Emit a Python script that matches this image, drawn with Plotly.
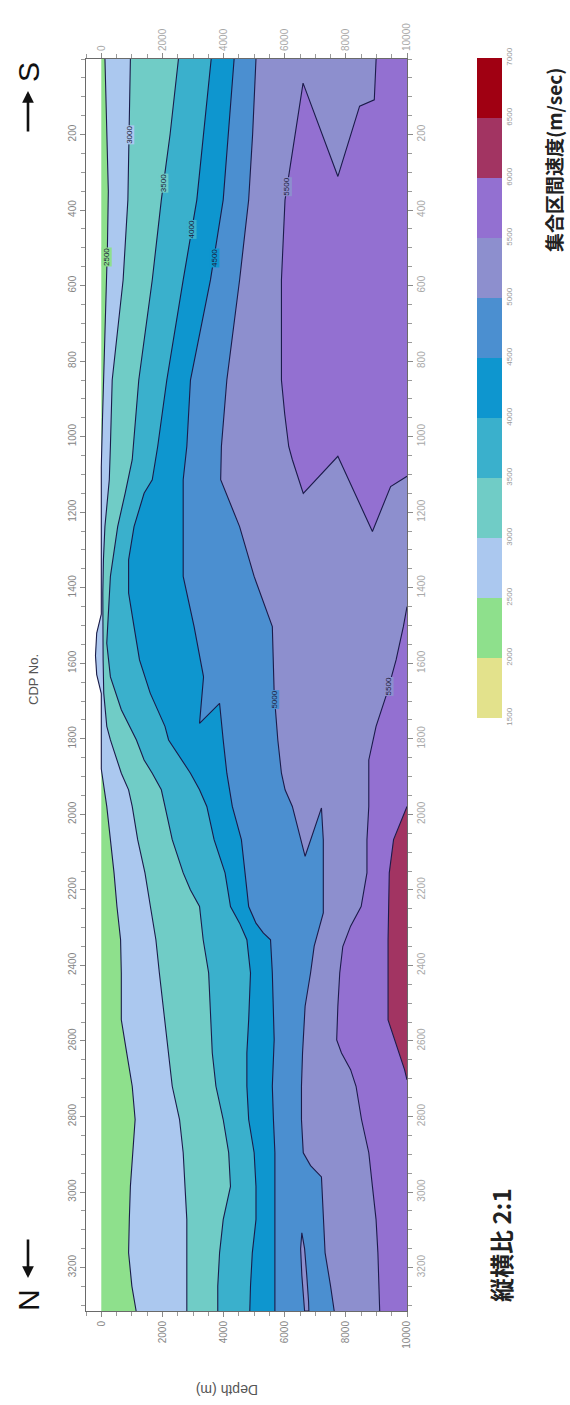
import plotly.graph_objects as go

# ---------------- velocity bands (m/sec) ----------------
levels = [1500, 2000, 2500, 3000, 3500, 4000, 4500, 5000, 5500, 6000, 6500, 7000]
band_colors = ["#e3e28c", "#8ee08c", "#abc8ef", "#70ccc6", "#3ab0cc", "#0e96cf",
               "#4b8fd0", "#8d8fce", "#9370d1", "#a23462", "#a00012"]

CDP_MAX = 3315
DEPTH_MIN, DEPTH_MAX = -500, 10000

# top of the velocity section (datum), depth in m
surf_cdp = [0, 1470, 1520, 1580, 1630, 1680, 3315]
surf_depth = [0, 0, -150, -190, -150, 0, 0]

# iso-velocity lines: CDP No. and depth (m) along each line
c2500 = [0, 200, 350, 500, 650, 800, 950, 1080, 1470, 1520, 1580, 1630, 1680, 1880, 1979,
         2067, 2155, 2244, 2332, 2420, 2544, 2632, 2720, 2808, 2896, 2985, 3073, 3161,
         3249, 3315]
d2500 = [120, 170, 230, 200, 140, 90, 40, 0, 0, -150, -190, -150, 0, 0, 179,
         298, 417, 512, 631, 655, 655, 833, 1012, 1107, 1036, 952, 917, 893,
         1000, 1140]

c3000 = [0, 200, 373, 585, 850, 1026, 1114, 1238, 1326, 1414, 1503, 1591, 1679, 1767,
         1803, 1847, 1891, 1935, 1979, 2067, 2155, 2244, 2332, 2420, 2508, 2597, 2632,
         2720, 2808, 2896, 2985, 3073, 3315]
d3000 = [952, 917, 870, 714, 357, 298, 262, 119, 70, 50, 50, 60, 80, 180,
         298, 476, 655, 893, 1012, 1190, 1429, 1607, 1786, 1900, 2024, 2150, 2202,
         2321, 2560, 2679, 2738, 2798, 2798]

c3500 = [0, 200, 373, 585, 850, 1026, 1061, 1150, 1238, 1370, 1459, 1547, 1636, 1723,
         1803, 1856, 1891, 1935, 1979, 2067, 2155, 2200, 2244, 2332, 2420, 2544, 2632,
         2720, 2808, 2896, 2985, 3073, 3161, 3249, 3315]
d3500 = [2524, 2250, 1964, 1667, 1226, 1048, 1012, 780, 536, 298, 238, 179, 298, 655,
         1150, 1400, 1667, 1964, 2083, 2321, 2679, 2917, 3214, 3333, 3512, 3571, 3631,
         3750, 3988, 4167, 4226, 3988, 3869, 3810, 3810]

c4000 = [0, 200, 373, 585, 850, 1026, 1114, 1150, 1238, 1326, 1414, 1503, 1591, 1679,
         1767, 1803, 1891, 1935, 1979, 2067, 2155, 2244, 2288, 2332, 2420, 2544, 2632,
         2720, 2808, 2896, 2985, 3073, 3161, 3249, 3315]
d4000 = [3595, 3350, 3125, 2679, 2143, 1845, 1667, 1400, 1071, 893, 893, 1071, 1250, 1600,
         2083, 2202, 2917, 3214, 3452, 3690, 4048, 4226, 4524, 4762, 4881, 4821, 4762,
         4762, 4821, 5000, 5060, 5060, 4940, 4881, 4857]

c4500 = [0, 200, 373, 585, 850, 1026, 1114, 1238, 1370, 1503, 1636, 1759, 1706, 1803,
         1891, 1979, 2067, 2155, 2244, 2288, 2314, 2332, 2420, 2597, 2720, 2808, 2896,
         3315]
d4500 = [4345, 4150, 3988, 3571, 2917, 2798, 2679, 2679, 2679, 3036, 3345, 3214, 3869, 3988,
         4107, 4286, 4583, 4702, 4821, 5060, 5298, 5536, 5595, 5655, 5595, 5631, 5679,
         5679]

c5000 = [0, 200, 373, 585, 850, 1026, 1114, 1238, 1370, 1503, 1679, 1803, 1891, 1935,
         1979, 2111, 1983, 2067, 2261, 2349, 2420, 2508, 2597, 2632, 2720, 2808, 2896,
         2930, 2960, 3073, 3161, 3249, 3315]
d5000 = [5060, 4950, 4821, 4524, 4107, 3929, 3905, 4524, 5000, 5595, 5655, 5774, 5893, 6012,
         6250, 6667, 7202, 7262, 7262, 6964, 6845, 6667, 6607, 6583, 6548, 6548, 6607,
         6845, 7202, 7262, 7321, 7500, 7619]

# closed 5000 m/sec lens near the north end
lens_cdp = [3108, 3150, 3220, 3290, 3315, 3315, 3290, 3220, 3150, 3108]
lens_depth = [6560, 6520, 6560, 6620, 6650, 6790, 6780, 6720, 6650, 6560]

# 5500 m/sec line, southern (upper) body and northern (lower) body
c5500_s = [0, 108, 125, 311, 64, 373, 585, 850, 940, 1026, 1061, 1150, 1052, 1251, 1132, 1105]
d5500_s = [8990, 8930, 8450, 7740, 6600, 6010, 5893, 5893, 6000, 6131, 6250, 6607, 7738,
           8869, 9464, 10000]
c5500_n = [1450, 1503, 1591, 1679, 1767, 1856, 1979, 2067, 2155, 2244, 2296, 2350, 2420,
           2508, 2597, 2632, 2676, 2720, 2808, 2896, 2985, 3073, 3161, 3315]
d5500_n = [10000, 9881, 9643, 9345, 8988, 8750, 8750, 8690, 8690, 8500, 8155, 7900, 7800,
           7738, 7700, 7857, 8155, 8333, 8512, 8750, 8869, 8988, 9048, 9107]

# 6000 m/sec body
c6000 = [1979, 2023, 2067, 2155, 2332, 2544, 2588, 2632, 2676, 2703]
d6000 = [10000, 9780, 9560, 9420, 9380, 9380, 9560, 9720, 9920, 10000]

# contour labels: text, CDP, depth
label_text = ["3000", "3500", "2500", "4000", "4500", "5500", "5000", "5500"]
label_cdp = [200, 330, 524, 452, 527, 338, 1697, 1662]
label_depth = [917, 2035, 190, 2959, 3685, 6077, 5672, 9403]
label_bg = [band_colors[2], band_colors[3], band_colors[1], band_colors[4],
            band_colors[5], band_colors[7], band_colors[6], band_colors[7]]

# axis ticks
depth_ticks = [0, 2000, 4000, 6000, 8000, 10000]
cdp_ticks = list(range(200, 3201, 200))

LINE_COLOR = "#1b1b4a"
fig = go.Figure()


def add_region(cdp, depth, color):
    """Fill the area between a line and the deep (right) edge of the section."""
    fig.add_trace(go.Scatter(
        x=list(depth) + [DEPTH_MAX, DEPTH_MAX],
        y=list(cdp) + [cdp[-1], cdp[0]],
        mode="lines", fill="toself", fillcolor=color,
        line=dict(width=0, color=color), hoverinfo="skip"))


def add_closed(cdp, depth, color):
    fig.add_trace(go.Scatter(x=depth, y=cdp, mode="lines", fill="toself",
                             fillcolor=color, line=dict(width=0, color=color),
                             hoverinfo="skip"))


def add_line(cdp, depth):
    fig.add_trace(go.Scatter(x=depth, y=cdp, mode="lines",
                             line=dict(color=LINE_COLOR, width=1.1), hoverinfo="skip"))


# filled bands, lowest velocity first
add_region(surf_cdp, surf_depth, band_colors[1])
add_region(c2500, d2500, band_colors[2])
add_region(c3000, d3000, band_colors[3])
add_region(c3500, d3500, band_colors[4])
add_region(c4000, d4000, band_colors[5])
add_region(c4500, d4500, band_colors[6])
add_region(c5000, d5000, band_colors[7])
add_closed(lens_cdp, lens_depth, band_colors[7])
add_region(c5500_s, d5500_s, band_colors[8])
add_region(c5500_n, d5500_n, band_colors[8])
add_closed(c6000, d6000, band_colors[9])

# iso-velocity lines
for c, d in [(c2500, d2500), (c3000, d3000), (c3500, d3500), (c4000, d4000),
             (c4500, d4500), (c5000, d5000), (lens_cdp, lens_depth),
             (c5500_s, d5500_s), (c5500_n, d5500_n), (c6000, d6000)]:
    add_line(c, d)

# colour scale legend
cscale = []
for i, col in enumerate(band_colors):
    cscale.append([i / len(band_colors), col])
    cscale.append([(i + 1) / len(band_colors), col])

PLOT_L, PLOT_R, PLOT_T, PLOT_B = 86, 407, 59, 1311
PW, PH = PLOT_R - PLOT_L, PLOT_B - PLOT_T


def px(x):
    return (x - PLOT_L) / PW


def py(y):
    return (PLOT_B - y) / PH


fig.add_trace(go.Scatter(
    x=[DEPTH_MIN, DEPTH_MIN], y=[CDP_MAX, CDP_MAX], mode="markers",
    marker=dict(size=1, opacity=0, color=[levels[0], levels[-1]],
                cmin=levels[0], cmax=levels[-1], colorscale=cscale, showscale=True,
                colorbar=dict(thickness=25, thicknessmode="pixels",
                              len=660, lenmode="pixels",
                              x=px(477), xanchor="left", xpad=0,
                              y=py(58), yanchor="top", ypad=0,
                              tickmode="array", tickvals=levels,
                              ticktext=[str(v) for v in levels],
                              tickangle=-90, ticks="", outlinewidth=0,
                              tickfont=dict(size=8, color="#999999",
                                            family="Liberation Sans"))),
    hoverinfo="skip"))

# invisible trace so that the mirrored axes are drawn
fig.add_trace(go.Scatter(x=[None], y=[None], xaxis="x2", yaxis="y2",
                         mode="markers", hoverinfo="skip"))

for t, c, d, bg in zip(label_text, label_cdp, label_depth, label_bg):
    fig.add_annotation(x=d, y=c, xref="x", yref="y", text=t, showarrow=False,
                       textangle=-90, bgcolor=bg, borderpad=0,
                       font=dict(size=8, color="#1b1b3a", family="Liberation Sans"))

tick_font = dict(size=10, color="#858585", family="Liberation Sans")
tick_font_light = dict(size=10, color="#a8a8a8", family="Liberation Sans")

common_x = dict(range=[DEPTH_MIN, DEPTH_MAX], tickmode="array", tickvals=depth_ticks,
                ticktext=[str(v) for v in depth_ticks], tickangle=-90,
                ticks="outside", ticklen=5, tickcolor="#8a8a8a",
                minor=dict(dtick=500, tick0=0, ticks="outside", ticklen=4,
                           tickcolor="#9a9a9a"),
                showline=True, linecolor="#6a6a6a", linewidth=1,
                showgrid=False, zeroline=False)
common_y = dict(range=[CDP_MAX, 0], tickmode="array", tickvals=cdp_ticks,
                ticktext=[str(v) for v in cdp_ticks], tickangle=-90,
                ticks="outside", ticklen=5, tickcolor="#8a8a8a",
                minor=dict(dtick=50, tick0=0, ticks="outside", ticklen=4,
                           tickcolor="#9a9a9a"),
                showline=True, linecolor="#6a6a6a", linewidth=1,
                showgrid=False, zeroline=False)

fig.update_layout(
    width=570, height=1405,
    margin=dict(l=PLOT_L, r=570 - PLOT_R, t=PLOT_T, b=1405 - PLOT_B),
    paper_bgcolor="white", plot_bgcolor="white", showlegend=False,
    xaxis=dict(**common_x, side="bottom", tickfont=tick_font),
    yaxis=dict(**common_y, side="left", tickfont=tick_font),
    xaxis2=dict(**common_x, side="top", overlaying="x", anchor="y", tickfont=tick_font_light),
    yaxis2=dict(**common_y, side="right", overlaying="y", anchor="x", tickfont=tick_font_light),
)

# titles and side texts
texts = [
    dict(text="CDP No.", x=px(33), y=py(680), textangle=-90,
         font=dict(size=13, color="#555555", family="Liberation Sans")),
    dict(text="Depth (m)", x=px(227), y=py(1390), textangle=180,
         font=dict(size=14, color="#555555", family="Liberation Sans")),
    dict(text="N", x=px(28), y=py(1300), textangle=-90,
         font=dict(size=30, color="#111111", family="Liberation Sans")),
    dict(text="S", x=px(28), y=py(72), textangle=-90,
         font=dict(size=30, color="#111111", family="Liberation Sans")),
    dict(text="<b>縦横比 2:1</b>", x=px(500), y=py(1245), textangle=-90,
         font=dict(size=24, color="#222222", family="Noto Sans CJK JP")),
    dict(text="<b>集合区間速度(m/sec)</b>", x=px(553), y=py(160), textangle=-90,
         font=dict(size=19, color="#222222", family="Noto Sans CJK JP")),
]
for t in texts:
    fig.add_annotation(xref="paper", yref="paper", showarrow=False,
                       xanchor="center", yanchor="middle", **t)

# direction arrows next to N and S (tail offset in pixels)
for head_y, tail_dy in [(1278, -40), (91, 42)]:
    fig.add_annotation(xref="paper", yref="paper", x=px(28), y=py(head_y),
                       ax=0, ay=tail_dy, text="", showarrow=True,
                       arrowhead=2, arrowsize=0.9, arrowwidth=2.6, arrowcolor="#111111")

fig.write_html("out.html")
